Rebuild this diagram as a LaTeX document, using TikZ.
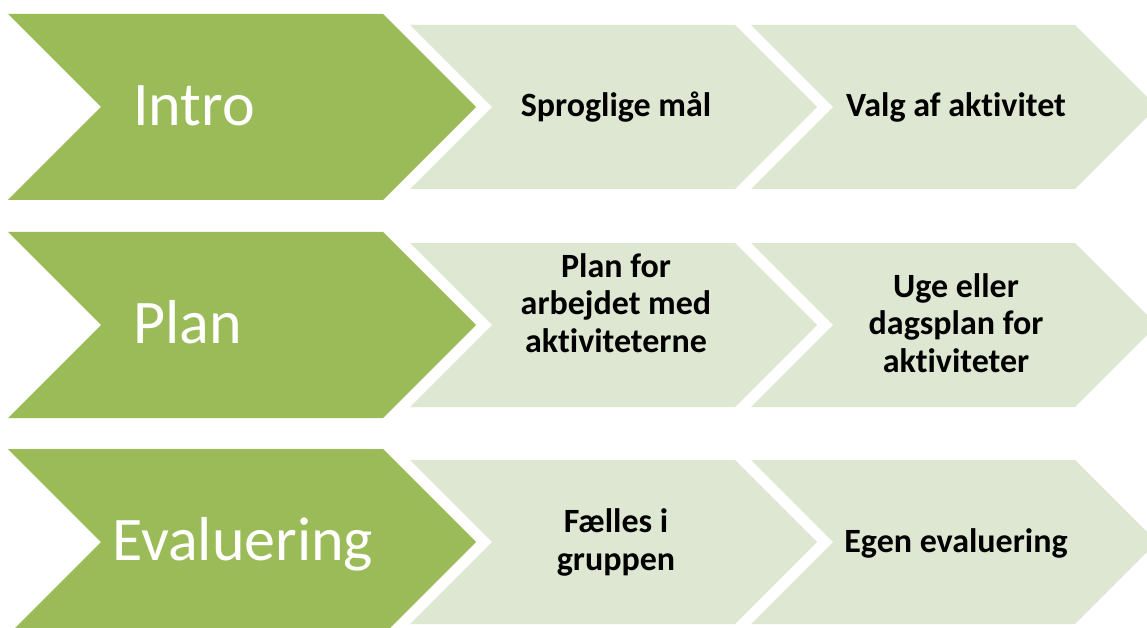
\documentclass[tikz,border=0pt]{standalone}
\usepackage{fontspec}
\setmainfont{Carlito}[Ligatures=NoCommon]
\usetikzlibrary{positioning}
\definecolor{gron}{HTML}{9BBB59}
\definecolor{lysgron}{HTML}{DEE7D1}
\tikzset{%
	% Specifications for style of shapes and labels:
	lead/.style = {fill=gron},
	stage/.style = {fill=lysgron},
	title/.style = {text=white, anchor=base west, inner sep=0pt,
		font=\fontsize{62}{74}\selectfont},
	item/.style = {anchor=base, inner sep=0pt, align=center,
		font=\bfseries\fontsize{34}{37.5}\selectfont}
}
% chevron: [style] left x, middle y, right x, half height
\newcommand{\chev}[5][stage]{%
	\fill[#1] (#2,#3-#5) -- (#4,#3-#5) -- (#4+#5,#3) -- (#4,#3+#5)
		-- (#2,#3+#5) -- (#2+#5,#3) -- cycle;}

\begin{document}
\begin{tikzpicture}[x=1pt,y=-1pt]
	\useasboundingbox (0,0) rectangle (1147,628);
	\clip (0,0) rectangle (1147,628);
	% three rows of chevrons
	\foreach \y in {107,325,542}{
		\chev[lead]{8}{\y}{383}{93}
		\chev{410}{\y}{735}{82}
		\chev{751}{\y}{1075}{82}
	}
	% Specification of labels (base = last line)
	\node (t1) [title] at (133,126) {Intro};
	\node (t2) [title] at (133,343) {Plan};
	\node (t3) [title] at (112,560) {Evaluering};
	
	\node (i11) [item] at (616,117) {Sproglige mål};
	\node (i12) [item] at (956,117) {Valg af aktivitet};
	\node (i21) [item] at (616,352) {Plan for\\arbejdet med\\aktiviteterne};
	\node (i22) [item] at (956,372) {Uge eller\\dagsplan for\\aktiviteter};
	\node (i31) [item] at (616,570) {Fælles i\\gruppen};
	\node (i32) [item] at (956,552) {Egen evaluering};
\end{tikzpicture}
\end{document}
